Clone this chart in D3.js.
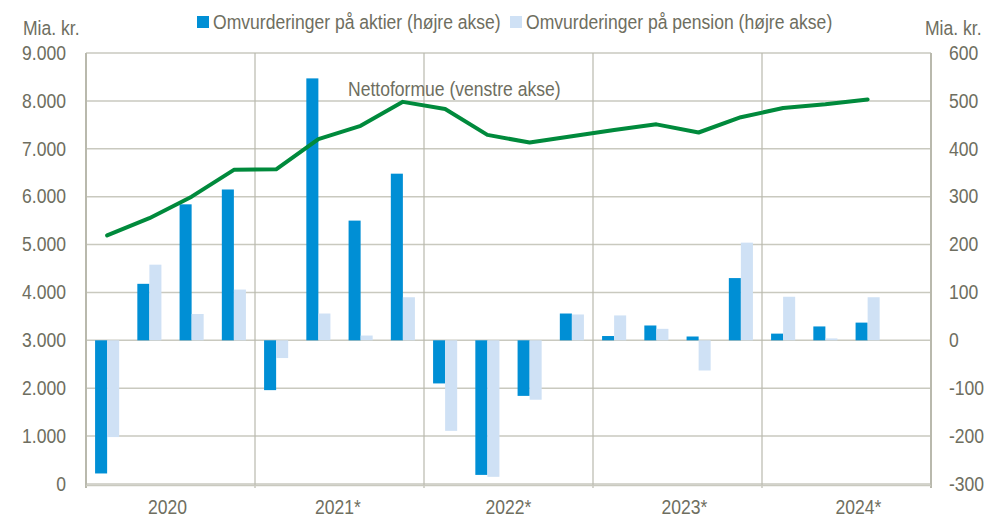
<!DOCTYPE html>
<html>
<head>
<meta charset="utf-8">
<style>
  body { margin: 0; background: #fff; }
  svg text { font-family: "Liberation Sans", Arial, sans-serif; font-size: 19.5px; fill: #6e6e60; }
</style>
<script src="https://cdn.jsdelivr.net/npm/d3@7"></script>
</head>
<body>
<svg id="chart" width="987" height="517"></svg>
<script>
// quarters (20 slots, last one empty) and year labels
var quarters = ['20K1','20K2','20K3','20K4','21K1','21K2','21K3','21K4',
                '22K1','22K2','22K3','22K4','23K1','23K2','23K3','23K4',
                '24K1','24K2','24K3','24K4'];
var years = ['2020', '2021*', '2022*', '2023*', '2024*'];

// revaluations, right axis (mia. kr.)
var aktier  = [-278, 118, 284, 315, -104, 547, 250, 348, -90, -281, -116, 56, 9, 31, 8, 130, 14, 29, 37];
var pension = [-202, 158, 55, 106, -37, 56, 10, 90, -189, -285, -124, 54, 52, 24, -63, 204, 91, 4, 90];

// net wealth, left axis (mia. kr.)
var netto = [5190, 5550, 6000, 6560, 6570, 7200, 7480, 7980, 7830, 7290, 7130, 7260, 7390, 7510, 7340, 7660, 7850, 7930, 8030];

var leftTicks = [0, 1000, 2000, 3000, 4000, 5000, 6000, 7000, 8000, 9000];
var rightTicks = [-300, -200, -100, 0, 100, 200, 300, 400, 500, 600];

var svg = d3.select('#chart'),
    plotL = 86, plotR = 931, plotT = 53, plotB = 484;

var x = d3.scaleBand().domain(quarters).range([plotL, plotR])
  .paddingInner(0.43).paddingOuter(0.215);
var xs = d3.scaleBand().domain(['a', 'p']).range([0, x.bandwidth()]);
var yL = d3.scaleLinear().domain([0, 9000]).range([plotB, plotT]);
var yR = d3.scaleLinear().domain([-300, 600]).range([plotB, plotT]);
var fmt = function(v) { return d3.format(',')(v).replace(/,/g, '.'); };

// narrow text: place at (x, y) and squeeze horizontally
function place(x0, y0) { return 'translate(' + x0 + ',' + y0 + ') scale(0.9,1)'; }

var gridColor = '#c9c9bf';

// horizontal gridlines
svg.append('g').selectAll('line').data(leftTicks).join('line')
  .attr('x1', plotL).attr('x2', plotR)
  .attr('y1', function(d) { return yL(d); }).attr('y2', function(d) { return yL(d); })
  .attr('stroke', gridColor).attr('stroke-width', 1.5);

// vertical year separators
var step = x.step();
svg.append('g').selectAll('line').data(d3.range(years.length + 1)).join('line')
  .attr('x1', function(i) { return plotL + i * step * 4; })
  .attr('x2', function(i) { return plotL + i * step * 4; })
  .attr('y1', plotT).attr('y2', plotB + 4)
  .attr('stroke', '#b9b9ad').attr('stroke-width', function(i) { return (i == 0 || i == years.length) ? 2 : 1.2; });

// bottom axis line
svg.append('line').attr('x1', plotL).attr('x2', plotR)
  .attr('y1', plotB + 1.5).attr('y2', plotB + 1.5)
  .attr('stroke', gridColor).attr('stroke-width', 1.5);

// bars
var bars = svg.append('g');
bars.selectAll('.a').data(aktier).join('rect').attr('class', 'a')
  .attr('x', function(d, i) { return x(quarters[i]) + xs('a'); })
  .attr('width', xs.bandwidth())
  .attr('y', function(d) { return yR(Math.max(0, d)); })
  .attr('height', function(d) { return Math.abs(yR(d) - yR(0)); })
  .attr('fill', '#008fd5');
bars.selectAll('.p').data(pension).join('rect').attr('class', 'p')
  .attr('x', function(d, i) { return x(quarters[i]) + xs('p'); })
  .attr('width', xs.bandwidth())
  .attr('y', function(d) { return yR(Math.max(0, d)); })
  .attr('height', function(d) { return Math.abs(yR(d) - yR(0)); })
  .attr('fill', '#cfe1f5');

// net wealth line
var line = d3.line()
  .x(function(d, i) { return x(quarters[i]) + x.bandwidth() / 2; })
  .y(function(d) { return yL(d); });
svg.append('path').datum(netto)
  .attr('fill', 'none').attr('stroke', '#008a3c').attr('stroke-width', 4)
  .attr('stroke-linejoin', 'round').attr('stroke-linecap', 'round')
  .attr('d', line);

// left axis labels
svg.append('g').selectAll('text').data(leftTicks).join('text')
  .attr('transform', function(d) { return place(66, yL(d)); }).attr('dy', '0.35em')
  .attr('text-anchor', 'end')
  .text(fmt);

// right axis labels
svg.append('g').selectAll('text').data(rightTicks).join('text')
  .attr('transform', function(d) { return place(949, yR(d)); }).attr('dy', '0.35em')
  .text(function(d) { return d; });

// year labels (slightly shifted as in the original)
var nudge = [-3, -1.5, 0, 7, 12];
svg.append('g').selectAll('text').data(years).join('text')
  .attr('transform', function(d, i) { return place(plotL + (i * 4 + 2) * step + nudge[i], 514); })
  .attr('text-anchor', 'middle')
  .text(function(d) { return d; });

// units
svg.append('text').attr('transform', place(23, 35)).text('Mia. kr.');
svg.append('text').attr('transform', place(925, 35)).text('Mia. kr.');

// legend
var legend = [{ label: 'Omvurderinger på aktier (højre akse)', color: '#008fd5', x: 197 },
              { label: 'Omvurderinger på pension (højre akse)', color: '#cfe1f5', x: 510 }];
var lg = svg.append('g').selectAll('g').data(legend).join('g');
lg.append('rect').attr('x', function(d) { return d.x; }).attr('y', 16)
  .attr('width', 12).attr('height', 12).attr('fill', function(d) { return d.color; });
lg.append('text').attr('transform', function(d) { return place(d.x + 16, 29); })
  .text(function(d) { return d.label; });

// line annotation
svg.append('text').attr('transform', place(348, 96))
  .text('Nettoformue (venstre akse)');
</script>
</body>
</html>
